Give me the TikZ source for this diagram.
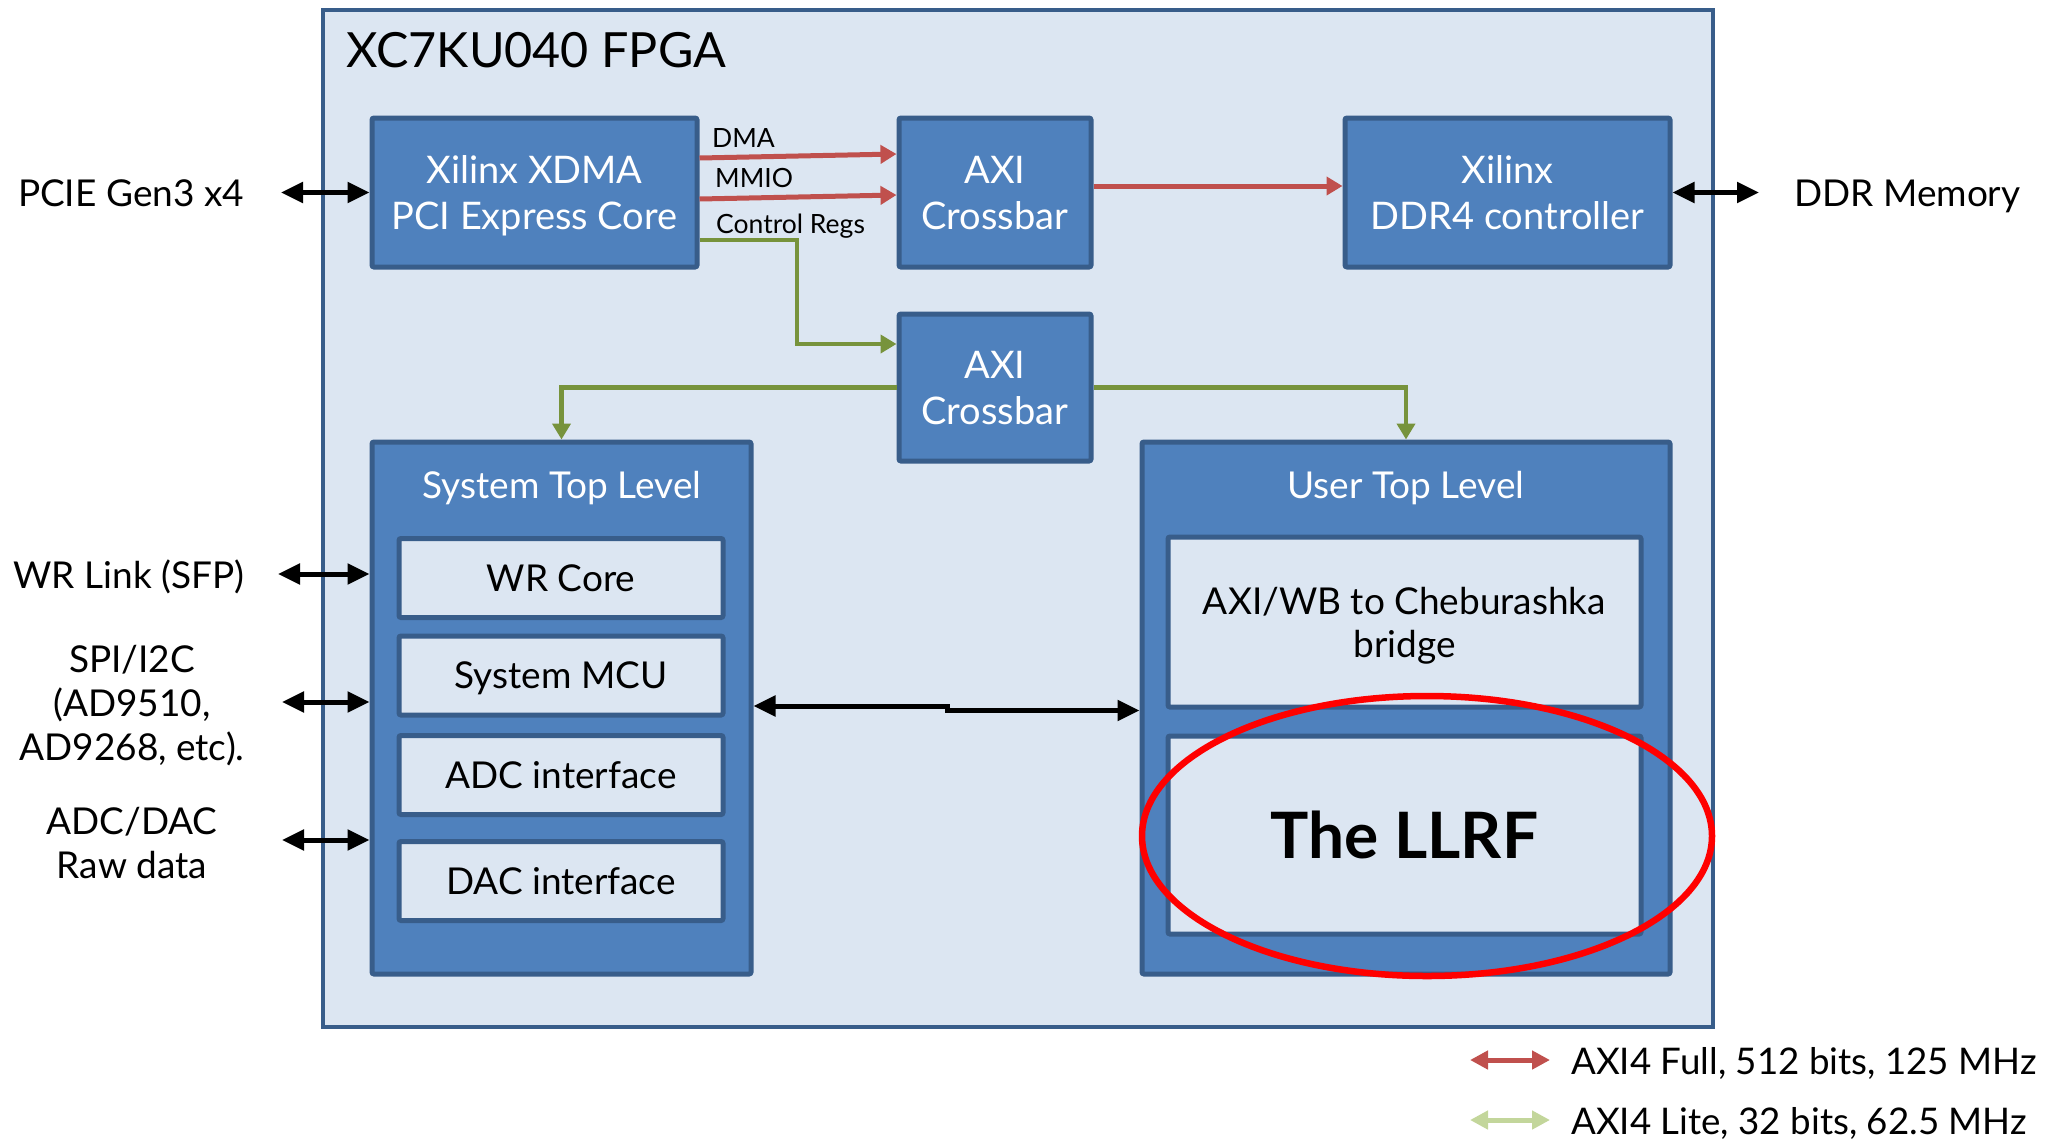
\documentclass[tikz,border=0pt]{standalone}
\usepackage{fontspec}
\setmainfont{Lato}
\usetikzlibrary{arrows.meta,calc}
\definecolor{fpgafill}{HTML}{DCE6F2}
\definecolor{bord}{HTML}{385D8A}
\definecolor{boxfill}{HTML}{4F81BD}
\definecolor{axired}{HTML}{C0504D}
\definecolor{axigreen}{HTML}{77933C}
\definecolor{legreen}{HTML}{C3D69B}
\tikzset{
  bluebox/.style={draw=bord, fill=boxfill, line width=5pt, rounded corners=2pt, text=white, align=center, inner sep=0pt, text depth=0pt, font=\fontsize{38}{46}\selectfont},
  whitebox/.style={draw=bord, fill=fpgafill, line width=5pt, rounded corners=2pt, text=black, align=center, inner sep=0pt, text depth=0pt, font=\fontsize{37}{44}\selectfont},
  outlabel/.style={text=black, align=center, inner sep=0pt, font=\fontsize{37}{44}\selectfont},
  smalllabel/.style={text=black, inner sep=0pt, font=\fontsize{26.5}{30}\selectfont, anchor=base west},
  blk/.style={{Triangle[length=22pt,width=20pt]}-{Triangle[length=22pt,width=20pt]}, line width=5pt, black},
  redarr/.style={-{Triangle[length=16pt,width=18pt]}, line width=5pt, axired},
  grnarr/.style={-{Triangle[length=16pt,width=18pt]}, line width=4.5pt, axigreen},
  legred/.style={{Triangle[length=18pt,width=18pt]}-{Triangle[length=18pt,width=18pt]}, line width=5pt, axired},
  leggrn/.style={{Triangle[length=18pt,width=18pt]}-{Triangle[length=18pt,width=18pt]}, line width=5pt, legreen},
}
\begin{document}
\begin{tikzpicture}[x=1pt, y=-1pt]
\useasboundingbox (0,0) rectangle (2049,1144);
% FPGA
\node[draw=bord, fill=fpgafill, line width=4pt, minimum width=1390pt, minimum height=1017pt, inner sep=0pt] (fpga) at (1018,518.5) {};
\node[anchor=west, inner sep=0pt, font=\fontsize{48.5}{58}\selectfont] (title) at (346,50) {XC7KU040 FPGA};
% top row
\node[bluebox, minimum width=325pt, minimum height=149pt] (xdma) at (534.5,192.5) {Xilinx XDMA\\PCI Express Core};
\node[bluebox, minimum width=192pt, minimum height=149pt] (axi1) at (995,192.5) {AXI\\Crossbar};
\node[bluebox, minimum width=325pt, minimum height=149pt] (ddr) at (1507.5,192.5) {Xilinx\\DDR4 controller};
\node[bluebox, minimum width=192pt, minimum height=147pt] (axi2) at (995,387.5) {AXI\\Crossbar};
% containers
\node[bluebox, minimum width=379pt, minimum height=532pt] (sys) at (561.5,708) {};
\node[bluebox, minimum width=528pt, minimum height=532pt] (user) at (1406,708) {};
\node[text=white, inner sep=0pt, anchor=base, font=\fontsize{37}{44}\selectfont] (systitle) at (562,498) {System Top Level};
\node[text=white, inner sep=0pt, anchor=base, font=\fontsize{37}{44}\selectfont] (usertitle) at (1406,498) {User Top Level};
\node[whitebox, minimum width=324pt, minimum height=79pt] (wr) at (561,578) {WR Core};
\node[whitebox, minimum width=324pt, minimum height=79pt] (mcu) at (561,675.5) {System MCU};
\node[whitebox, minimum width=324pt, minimum height=79pt] (adc) at (561,775) {ADC interface};
\node[whitebox, minimum width=324pt, minimum height=79pt] (dac) at (561,881) {DAC interface};
\node[whitebox, minimum width=473pt, minimum height=170pt, font=\fontsize{37}{43}\selectfont, text depth=-10pt] (bridge) at (1404.5,622) {AXI/WB to Cheburashka\\bridge};
\node[whitebox, minimum width=473pt, minimum height=198pt, font=\fontsize{64}{72}\selectfont\bfseries] (llrf) at (1404.5,835) {The LLRF};
% outside labels
\node[outlabel, anchor=base] (pcielbl) at (131,206) {PCIE Gen3 x4};
\node[outlabel, anchor=base] (wrlbl) at (129,588) {WR Link (SFP)};
\node[outlabel] (spilbl) at (132,706) {SPI/I2C\\(AD9510,\\AD9268, etc).};
\node[outlabel] (rawlbl) at (132,843) {ADC/DAC\\Raw data};
\node[outlabel, anchor=base west] (ddrlbl) at (1794,206) {DDR Memory};
% free ends
\coordinate (pcieL) at (281,192.5);
\coordinate (wrL) at (278,574);
\coordinate (spiL) at (282,702);
\coordinate (rawL) at (282,840);
\coordinate (ddrR) at (1759,192.5);
\coordinate (midA) at (947,706);
\coordinate (midB) at (947,710.5);
% black arrows
\draw[blk] (pcieL) -- (xdma.west);
\draw[blk] (wrL) -- (wrL -| sys.west);
\draw[blk] (spiL) -- (spiL -| sys.west);
\draw[blk] (rawL) -- (rawL -| sys.west);
\draw[blk] (ddr.east) -- (ddrR);
\draw[blk] (midA -| sys.east) -- (midA) -- (midB) -- (midB -| user.west);
% red arrows
\draw[redarr] ($(xdma.east)+(0,-34.5)$) -- ($(axi1.west)+(0,-38.5)$);
\draw[redarr] ($(xdma.east)+(0,6.5)$) -- ($(axi1.west)+(0,2.5)$);
\draw[redarr] ($(axi1.east)+(0,-6.5)$) -- ($(ddr.west)+(0,-6.5)$);
\node[smalllabel] (dmalbl) at (712,147) {DMA};
\node[smalllabel] (mmiolbl) at (715,187) {MMIO};
\node[smalllabel] (ctrllbl) at (716,233) {Control Regs};
% green arrows
\coordinate (g1) at ($(xdma.east)+(0,47.5)$);
\coordinate (g2) at (797,240);
\coordinate (g3) at (797,344);
\draw[grnarr] (g1) -- (g2) -- (g3) -- (g3 -| axi2.west);
\draw[grnarr] (axi2.west) -| (sys.north);
\draw[grnarr] (axi2.east) -| (user.north);
% highlight
\draw[red, line width=6.5pt] (1427,836) ellipse [x radius=285, y radius=140];
% legend
\coordinate (lr1) at (1470,1060);
\coordinate (lr2) at (1550,1060);
\coordinate (lg1) at (1470,1120);
\coordinate (lg2) at (1550,1120);
\draw[legred] (lr1) -- (lr2);
\draw[leggrn] (lg1) -- (lg2);
\node[outlabel, anchor=base west, font=\fontsize{36.7}{42}\selectfont] (legtxt1) at (1571,1074) {AXI4 Full, 512 bits, 125 MHz};
\node[outlabel, anchor=base west, font=\fontsize{36.7}{42}\selectfont] (legtxt2) at (1571,1134) {AXI4 Lite, 32 bits, 62.5 MHz};
\end{tikzpicture}
\end{document}
